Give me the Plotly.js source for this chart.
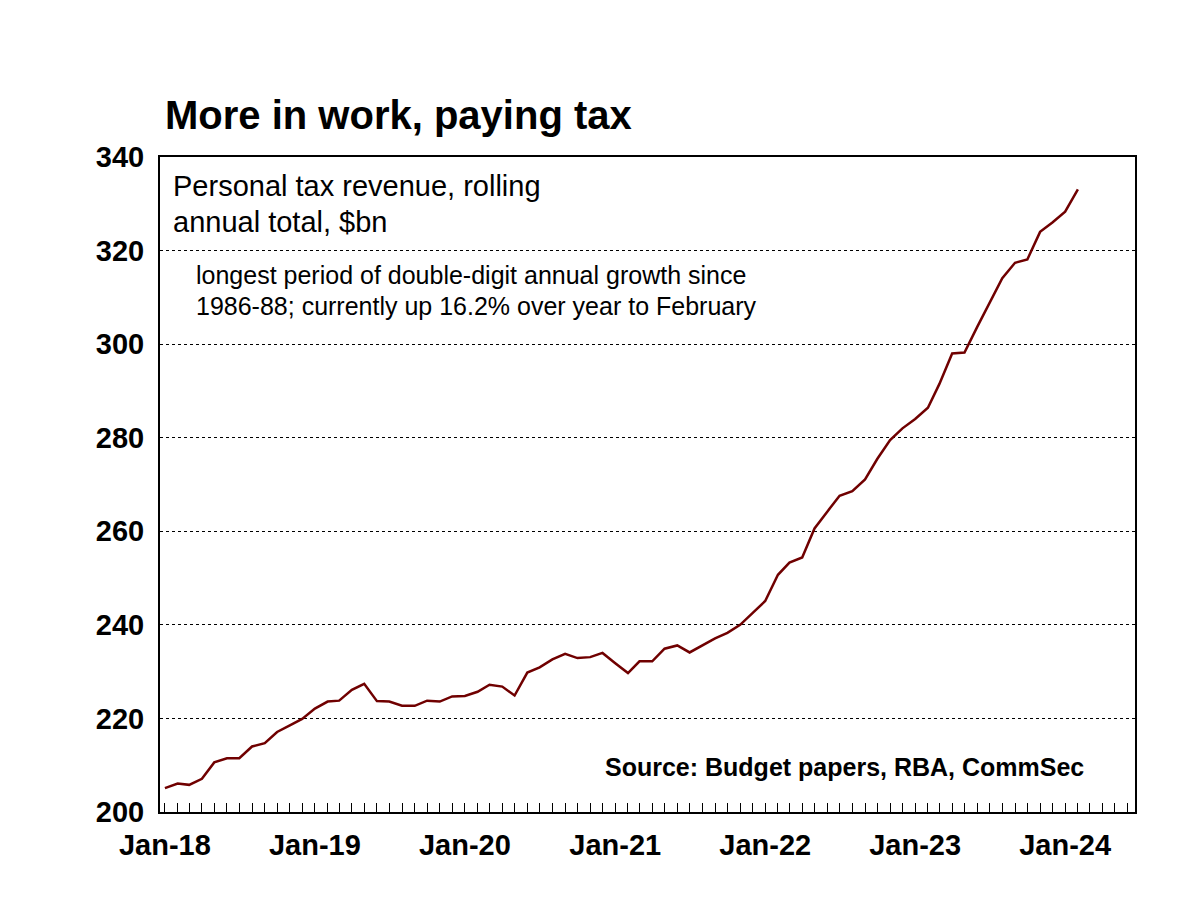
<!DOCTYPE html>
<html>
<head>
<meta charset="utf-8">
<script src="https://cdn.plot.ly/plotly-3.0.1.min.js"></script>
<style>html,body{margin:0;padding:0;background:#fff;}#chart{width:1200px;height:900px;}</style>
</head>
<body>
<div id="chart"></div>
<script>
// Monthly dates Jan-2018 .. Feb-2024
const months = [
 "2018-01","2018-02","2018-03","2018-04","2018-05","2018-06","2018-07","2018-08","2018-09","2018-10","2018-11","2018-12",
 "2019-01","2019-02","2019-03","2019-04","2019-05","2019-06","2019-07","2019-08","2019-09","2019-10","2019-11","2019-12",
 "2020-01","2020-02","2020-03","2020-04","2020-05","2020-06","2020-07","2020-08","2020-09","2020-10","2020-11","2020-12",
 "2021-01","2021-02","2021-03","2021-04","2021-05","2021-06","2021-07","2021-08","2021-09","2021-10","2021-11","2021-12",
 "2022-01","2022-02","2022-03","2022-04","2022-05","2022-06","2022-07","2022-08","2022-09","2022-10","2022-11","2022-12",
 "2023-01","2023-02","2023-03","2023-04","2023-05","2023-06","2023-07","2023-08","2023-09","2023-10","2023-11","2023-12",
 "2024-01","2024-02"
];
// Personal tax revenue, rolling annual total, $bn
const revenue = [
 205.1,206.1,205.8,207.1,210.6,211.5,211.5,214.0,214.7,217.1,218.5,219.9,
 222.1,223.6,223.8,226.1,227.4,223.7,223.6,222.7,222.7,223.8,223.6,224.7,
 224.8,225.7,227.2,226.8,224.9,229.8,230.9,232.6,233.8,232.9,233.1,234.0,
 231.8,229.7,232.2,232.2,234.9,235.6,234.1,235.6,237.1,238.3,240.0,242.5,
 245.1,250.7,253.3,254.4,260.6,264.2,267.6,268.6,271.1,275.5,279.5,282.0,
 284.0,286.4,291.5,298.0,298.2,303.7,308.9,314.1,317.4,318.1,324.0,326.0,
 328.3,333.1
];
const yTicks = [200,220,240,260,280,300,320,340];
const titleText = "More in work, paying tax";
const seriesLabel1 = "Personal tax revenue, rolling";
const seriesLabel2 = "annual total, $bn";
const note1 = "longest period of double-digit annual growth since";
const note2 = "1986-88; currently up 16.2% over year to February";
const sourceText = "Source: Budget papers, RBA, CommSec";

const dates = months.map(m => m + "-01");
const FONT = "Liberation Sans, Arial, sans-serif";

const trace = {
  x: dates, y: revenue, type: "scatter", mode: "lines",
  line: {color: "#700000", width: 2.5},
  hoverinfo: "skip"
};

const layout = {
  width: 1200, height: 900,
  margin: {l: 160, r: 65, t: 157, b: 88},
  paper_bgcolor: "#fff", plot_bgcolor: "#fff",
  showlegend: false,
  font: {family: FONT, color: "#000"},
  xaxis: {
    type: "date",
    range: ["2017-12-20", "2024-06-19"],
    dtick: "M12", tick0: "2018-01-01",
    tickformat: "%b-%y",
    ticks: "inside", ticklen: 9, tickwidth: 1, tickcolor: "#000",
    minor: {dtick: "M1", ticks: "inside", ticklen: 9, tickwidth: 1, tickcolor: "#000", showgrid: false},
    showgrid: false, zeroline: false,
    showline: true, linecolor: "#000", linewidth: 2, mirror: true,
    tickfont: {family: FONT, size: 29, color: "#000", weight: "bold"},
    ticklabelstandoff: 6
  },
  yaxis: {
    range: [200, 340],
    tickvals: yTicks,
    ticks: "", showgrid: true, gridcolor: "#000", gridwidth: 1, griddash: "dot",
    zeroline: false,
    showline: true, linecolor: "#000", linewidth: 2, mirror: true,
    tickfont: {family: FONT, size: 29, color: "#000", weight: "bold"},
    ticklabelstandoff: 8
  },
  annotations: [
    {text: "<b>" + titleText + "</b>", xref: "paper", yref: "paper", x: 0.003, y: 1.064,
     xanchor: "left", yanchor: "middle", showarrow: false, font: {family: FONT, size: 40, color: "#000"}},
    {text: seriesLabel1, xref: "paper", yref: "paper", x: 0.011, y: (812-186)/655,
     xanchor: "left", yanchor: "middle", showarrow: false, font: {family: FONT, size: 29, color: "#000"}},
    {text: seriesLabel2, xref: "paper", yref: "paper", x: 0.011, y: (812-222)/655,
     xanchor: "left", yanchor: "middle", showarrow: false, font: {family: FONT, size: 29, color: "#000"}},
    {text: note1, xref: "paper", yref: "paper", x: 0.035, y: (812-275)/655,
     xanchor: "left", yanchor: "middle", showarrow: false, font: {family: FONT, size: 25, color: "#000"}},
    {text: note2, xref: "paper", yref: "paper", x: 0.035, y: (812-306)/655,
     xanchor: "left", yanchor: "middle", showarrow: false, font: {family: FONT, size: 25, color: "#000"}},
    {text: "<b>" + sourceText + "</b>", xref: "paper", yref: "paper", x: (1086-160)/975, y: (812-767)/655,
     xanchor: "right", yanchor: "middle", showarrow: false, font: {family: FONT, size: 25, color: "#000"}}
  ]
};

Plotly.newPlot("chart", [trace], layout, {staticPlot: true, displayModeBar: false});
</script>
</body>
</html>
